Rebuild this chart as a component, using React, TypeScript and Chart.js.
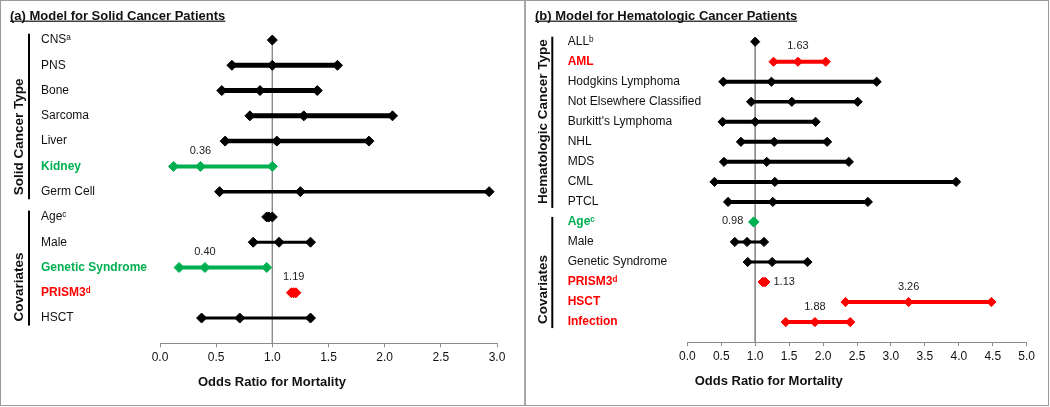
import React, { useEffect, useRef } from "react";
import { Chart, registerables } from "chart.js";

Chart.register(...registerables);

// ---------- Panel (a): solid cancer patients ----------
const solidTitle = "(a) Model for Solid Cancer Patients";
const solidLabels = ["CNSᵃ", "PNS", "Bone", "Sarcoma", "Liver", "Kidney", "Germ Cell", "Ageᶜ", "Male", "Genetic Syndrome", "PRISM3ᵈ", "HSCT"];
const solidLow: (number | null)[] = [null, 0.64, 0.55, 0.80, 0.58, 0.12, 0.53, 0.95, 0.83, 0.17, 1.17, 0.37];
const solidOR: number[] = [1.00, 1.00, 0.89, 1.28, 1.04, 0.36, 1.25, 0.97, 1.06, 0.40, 1.19, 0.71];
const solidHigh: (number | null)[] = [null, 1.58, 1.40, 2.07, 1.86, 1.00, 2.93, 1.00, 1.34, 0.95, 1.21, 1.34];
const solidEffect = ["", "", "", "", "", "protective", "", "", "", "protective", "risk", ""];
const solidGroups = [
  { label: "Solid Cancer Type", from: 0, to: 6 },
  { label: "Covariates", from: 7, to: 11 },
];
const solidXTicksMax = 3;

// ---------- Panel (b): hematologic cancer patients ----------
const hemTitle = "(b) Model for Hematologic Cancer Patients";
const hemLabels = ["ALLᵇ", "AML", "Hodgkins Lymphoma", "Not Elsewhere Classified", "Burkitt's Lymphoma", "NHL", "MDS", "CML", "PTCL", "Ageᶜ", "Male", "Genetic Syndrome", "PRISM3ᵈ", "HSCT", "Infection"];
const hemLow: (number | null)[] = [null, 1.27, 0.53, 0.94, 0.52, 0.79, 0.54, 0.40, 0.60, 0.97, 0.70, 0.89, 1.11, 2.33, 1.45];
const hemOR: number[] = [1.00, 1.63, 1.24, 1.54, 1.00, 1.28, 1.17, 1.29, 1.26, 0.98, 0.88, 1.25, 1.13, 3.26, 1.88];
const hemHigh: (number | null)[] = [null, 2.04, 2.79, 2.51, 1.89, 2.06, 2.38, 3.96, 2.66, 0.99, 1.13, 1.77, 1.15, 4.48, 2.40];
const hemEffect = ["", "risk", "", "", "", "", "", "", "", "protective", "", "", "risk", "risk", "risk"];
const hemGroups = [
  { label: "Hematologic Cancer Type", from: 0, to: 8 },
  { label: "Covariates", from: 9, to: 14 },
];
const hemXTicksMax = 5;

const axisTitle = "Odds Ratio for Mortality";

// ---------- styles ----------
const FONT = "'Liberation Sans', Arial, Helvetica, sans-serif";
const GREEN = "#00B050";
const RED = "#FF0000";
const INK = "#111111";
const GREY = "#8c8c8c";

const solidStyle = {
  lineWidths: [0, 5, 5, 5, 4.5, 4, 3.5, 3, 3, 4, 3, 3],
  valueLabelPos: ["", "", "", "", "", "above", "", "", "", "above", "above", ""],
  pointRadius: 5,
  geo: { left: 41, right: 28, top: 27.4, bottom: 13.7, yAxisWidth: 119, bracketX: 29, groupX: 19, titleX: 10, axisTitleX: 272 },
};
const hemStyle = {
  lineWidths: [0, 4, 4, 3.5, 4, 4, 4, 4, 4, 3, 3, 3, 3, 4, 4],
  valueLabelPos: ["", "above", "", "", "", "", "", "", "", "left", "", "", "right", "above", "above"],
  pointRadius: 4.6,
  geo: { left: 42.7, right: 23.3, top: 31.7, bottom: 14.9, yAxisWidth: 119.6, bracketX: 27.3, groupX: 18.3, titleX: 10, axisTitleX: 243.7 },
};

function colorOf(effect: string) {
  return effect === "protective" ? GREEN : effect === "risk" ? RED : "#000000";
}

type PanelProps = {
  title: string;
  labels: string[];
  low: (number | null)[];
  or: number[];
  high: (number | null)[];
  effect: string[];
  groups: { label: string; from: number; to: number }[];
  xMax: number;
  style: typeof solidStyle;
};

function Panel(props: PanelProps) {
  const ref = useRef<HTMLCanvasElement>(null);
  useEffect(() => {
    const { title, labels, low, or, high, effect, groups, xMax, style } = props;
    const { geo } = style;
    const n = labels.length;

    const datasets: any[] = [
      {
        data: [{ x: 1, y: 0 }, { x: 1, y: n }],
        borderColor: GREY,
        borderWidth: 1,
        pointRadius: 0,
        order: 1000,
      },
    ];
    labels.forEach((_, i) => {
      const pts: { x: number; y: number }[] = [];
      if (low[i] != null) pts.push({ x: low[i] as number, y: i });
      pts.push({ x: or[i], y: i });
      if (high[i] != null) pts.push({ x: high[i] as number, y: i });
      const c = colorOf(effect[i]);
      datasets.push({
        data: pts,
        borderColor: c,
        backgroundColor: c,
        borderWidth: style.lineWidths[i],
        pointStyle: "rectRot",
        pointRadius: style.pointRadius,
        pointBorderWidth: 1,
        pointBackgroundColor: c,
        pointBorderColor: c,
        order: 10,
      });
    });

    const deco = {
      id: "deco",
      afterDatasetsDraw(chart: any) {
        const ctx = chart.ctx;
        const xs = chart.scales.x;
        const ys = chart.scales.y;
        ctx.save();
        ctx.font = `11px ${FONT}`;
        ctx.fillStyle = "#222";
        style.valueLabelPos.forEach((pos, i) => {
          if (!pos) return;
          const px = xs.getPixelForValue(or[i]);
          const py = ys.getPixelForValue(i);
          const txt = or[i].toFixed(2);
          ctx.textBaseline = "middle";
          if (pos === "above") {
            ctx.textAlign = "center";
            ctx.fillText(txt, px, py - 15.5);
          } else if (pos === "left") {
            ctx.textAlign = "right";
            ctx.fillText(txt, px - 10.5, py - 0.5);
          } else {
            ctx.textAlign = "left";
            ctx.fillText(txt, px + 9.5, py);
          }
        });
        ctx.restore();
      },
      afterDraw(chart: any) {
        const ctx = chart.ctx;
        const ys = chart.scales.y;
        const xs = chart.scales.x;
        ctx.save();
        // row labels (category names), left aligned at the y-axis box's left edge
        ctx.textAlign = "left";
        ctx.textBaseline = "middle";
        labels.forEach((lab, i) => {
          const strong = !!effect[i];
          ctx.font = `${strong ? "bold " : ""}12px ${FONT}`;
          ctx.fillStyle = strong ? colorOf(effect[i]) : INK;
          ctx.fillText(lab, ys.left, ys.getPixelForValue(i));
        });
        // panel title, underlined
        ctx.font = `bold 13px ${FONT}`;
        ctx.fillStyle = INK;
        ctx.textAlign = "left";
        ctx.textBaseline = "alphabetic";
        ctx.fillText(title, geo.titleX, 19.5);
        const w = ctx.measureText(title).width;
        ctx.fillRect(geo.titleX, 20.6, w, 1.2);
        // group brackets + rotated labels
        groups.forEach((g) => {
          const y0 = ys.getPixelForValue(g.from - 0.25);
          const y1 = ys.getPixelForValue(g.to + 0.3);
          ctx.fillStyle = "#000";
          ctx.fillRect(geo.bracketX - 1, y0, 2, y1 - y0);
          ctx.save();
          ctx.translate(geo.groupX, y1 - 4);
          ctx.rotate(-Math.PI / 2);
          ctx.font = `bold 13.5px ${FONT}`;
          ctx.fillStyle = INK;
          ctx.textAlign = "left";
          ctx.textBaseline = "middle";
          ctx.fillText(g.label, 0, 0);
          ctx.restore();
        });
        // x axis title
        ctx.font = `bold 13px ${FONT}`;
        ctx.fillStyle = INK;
        ctx.textAlign = "center";
        ctx.textBaseline = "middle";
        ctx.fillText(axisTitle, geo.axisTitleX, xs.bottom - 10.5);
        ctx.restore();
      },
    };

    const chart = new Chart(ref.current as HTMLCanvasElement, {
      type: "line",
      data: { datasets },
      plugins: [deco],
      options: {
        animation: false,
        responsive: false,
        events: [],
        layout: { padding: { left: geo.left, right: geo.right, top: geo.top, bottom: geo.bottom } },
        plugins: { legend: { display: false }, tooltip: { enabled: false }, title: { display: false } },
        scales: {
          x: {
            type: "linear",
            min: 0,
            max: xMax,
            afterFit: (s: any) => {
              s.height = 50;
            },
            ticks: {
              stepSize: 0.5,
              autoSkip: false,
              maxRotation: 0,
              padding: 3,
              color: INK,
              font: { family: FONT, size: 12 },
              callback: (v: any) => Number(v).toFixed(1),
            },
            grid: { drawOnChartArea: false, drawTicks: true, tickLength: 4, color: GREY },
            border: { color: GREY, width: 1 },
          },
          y: {
            type: "linear",
            reverse: true,
            min: -0.5,
            max: n,
            bounds: "data",
            afterBuildTicks: (s: any) => {
              s.ticks = labels.map((_, i) => ({ value: i }));
            },
            afterFit: (s: any) => {
              s.width = geo.yAxisWidth;
            },
            grid: { display: false, drawTicks: false },
            border: { display: false },
            ticks: { display: false },
          },
        },
      } as any,
    });
    return () => chart.destroy();
  }, []);
  return <canvas ref={ref} width={525} height={407} style={{ display: "block", width: 525, height: 407 }} />;
}

export default function App() {
  return (
    <div style={{ position: "absolute", left: 0, top: 0, width: 1050, height: 407, background: "#fff", overflow: "hidden" }}>
      <div style={{ position: "absolute", left: 0, top: 0 }}>
        <Panel title={solidTitle} labels={solidLabels} low={solidLow} or={solidOR} high={solidHigh} effect={solidEffect} groups={solidGroups} xMax={solidXTicksMax} style={solidStyle} />
      </div>
      <div style={{ position: "absolute", left: 525, top: 0 }}>
        <Panel title={hemTitle} labels={hemLabels} low={hemLow} or={hemOR} high={hemHigh} effect={hemEffect} groups={hemGroups} xMax={hemXTicksMax} style={hemStyle} />
      </div>
      <div style={{ position: "absolute", left: 524, top: 0, width: 2, height: 406, background: "#a8a8a8" }} />
      <div style={{ position: "absolute", left: 0, top: 0, width: 1049, height: 406, boxSizing: "border-box", border: "1px solid #9a9a9a", pointerEvents: "none" }} />
    </div>
  );
}
